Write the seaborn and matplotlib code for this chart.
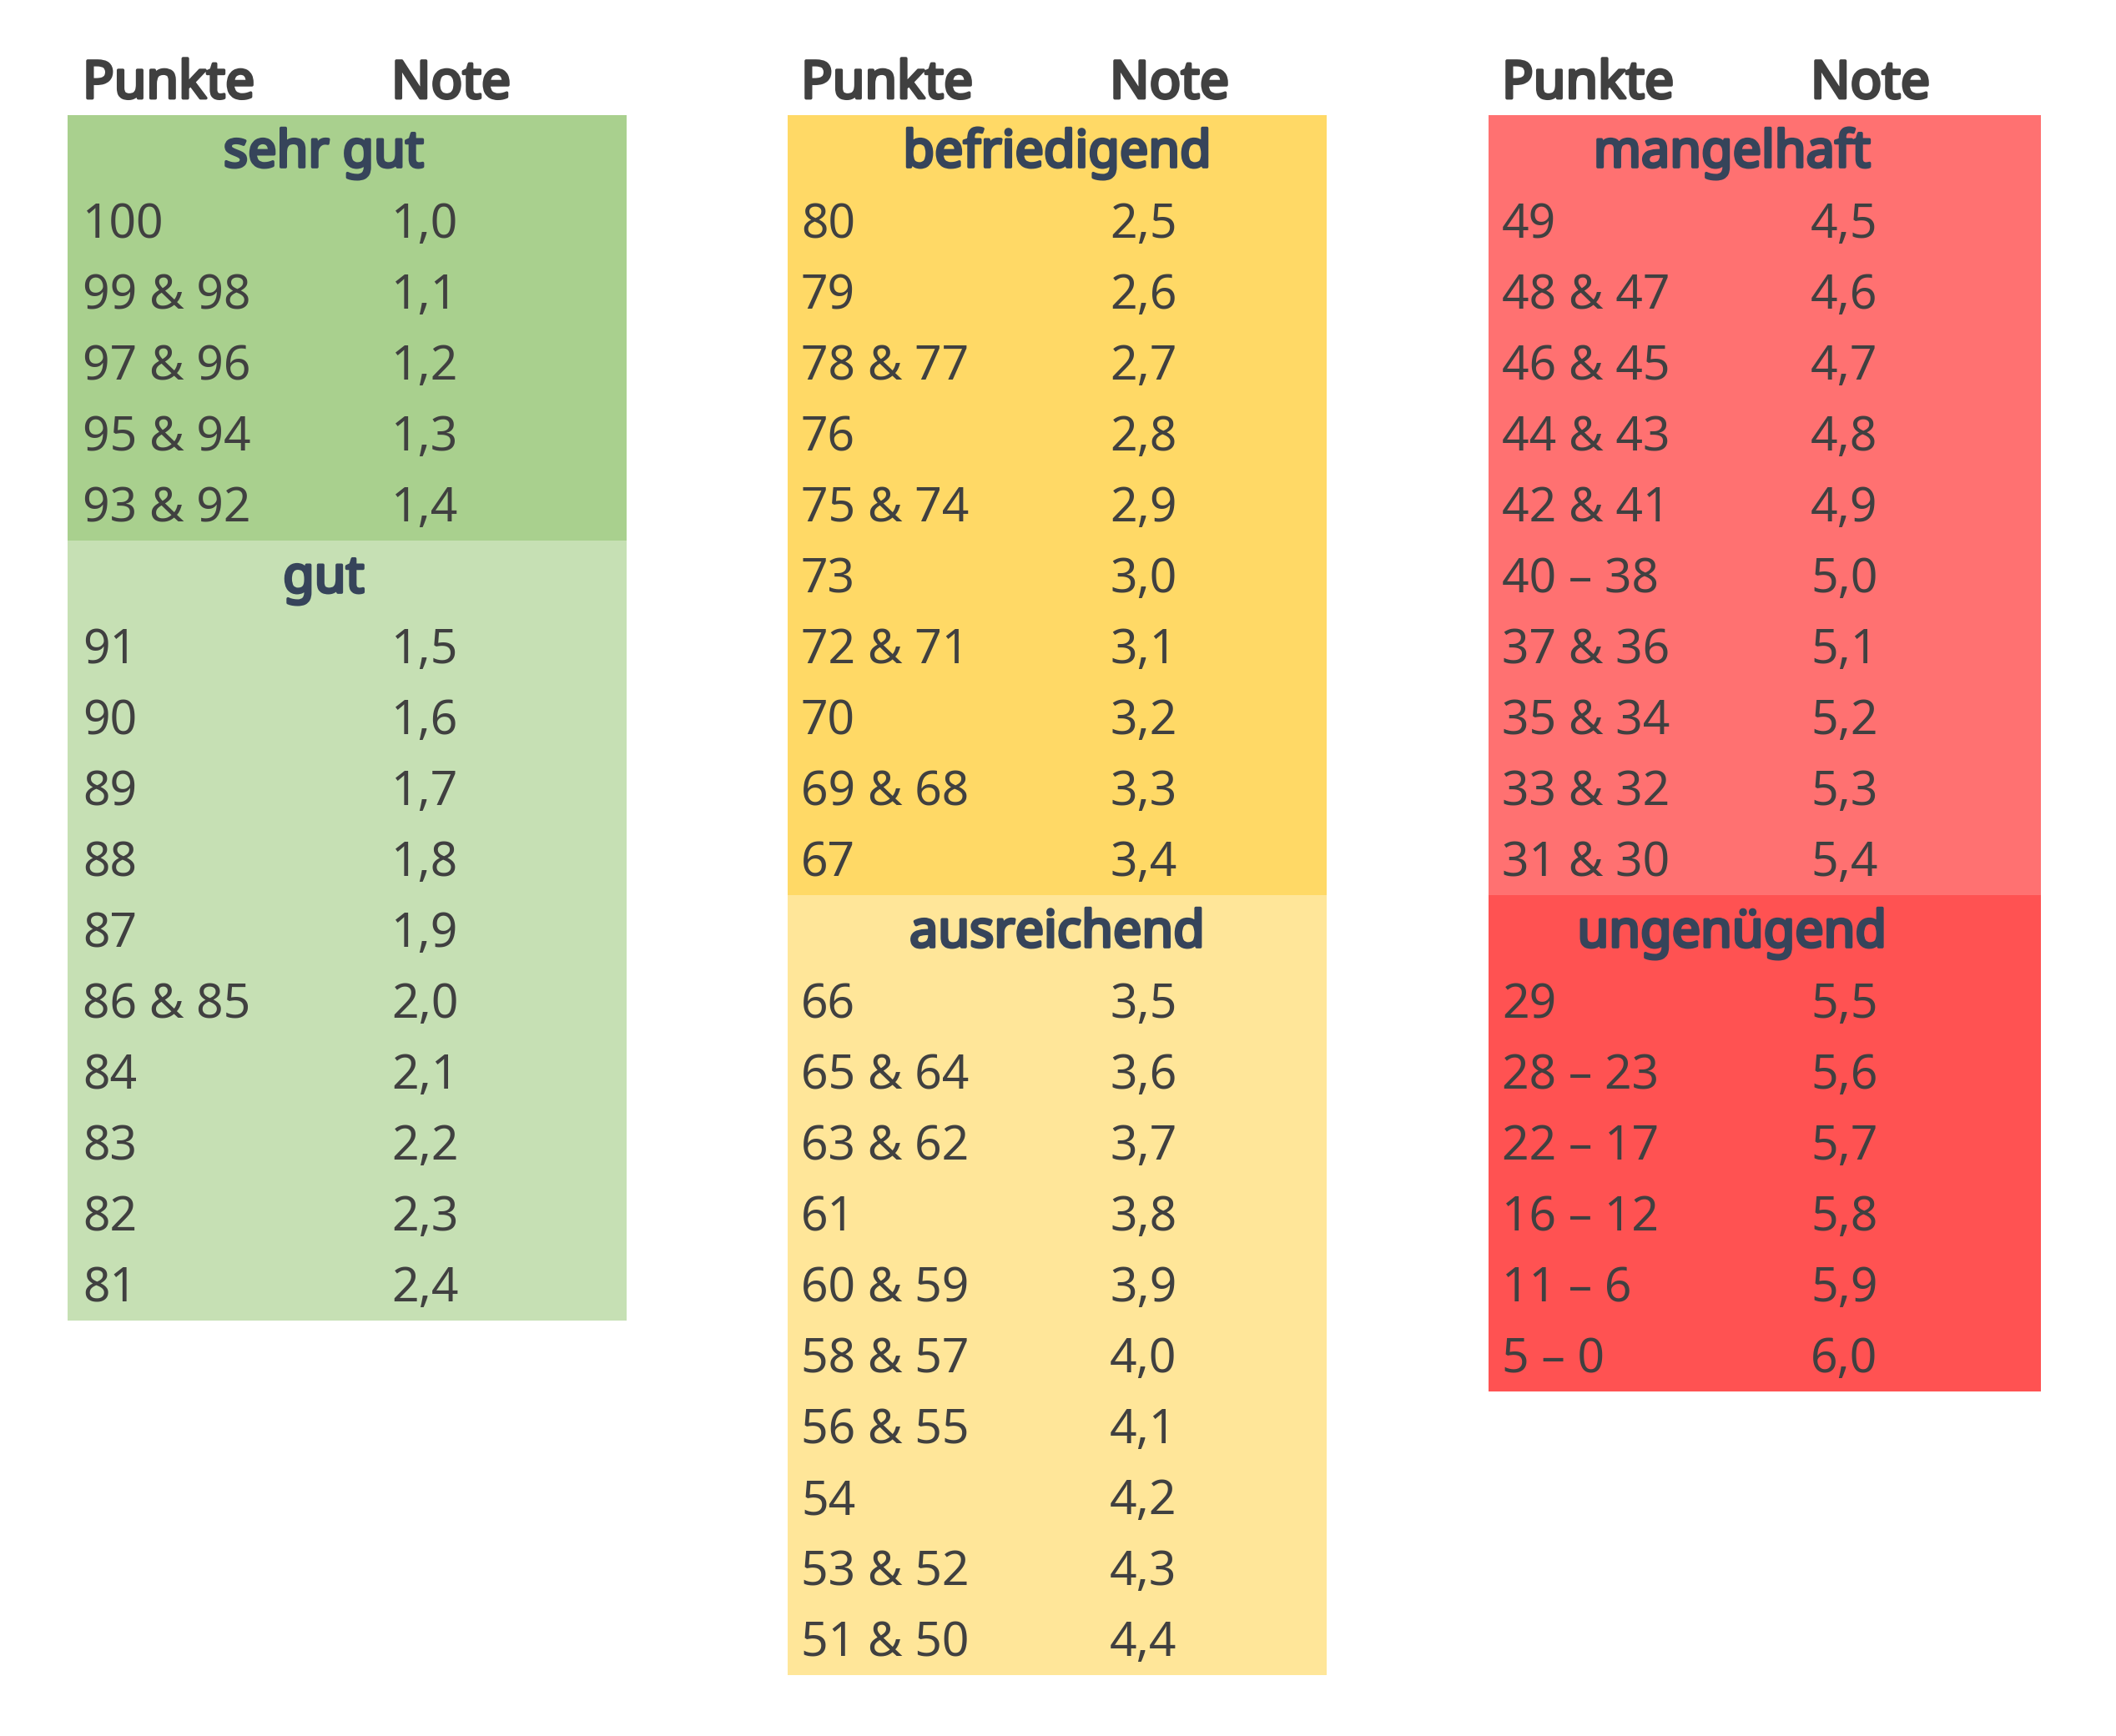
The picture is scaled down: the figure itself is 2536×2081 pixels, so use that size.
import matplotlib
matplotlib.use('Agg')
import numpy as np
import pandas as pd
import matplotlib.pyplot as plt
import matplotlib.patheffects as pe
import seaborn as sns
from matplotlib.colors import ListedColormap

# grading table data ---------------------------------
sehr_gut_punkte = ['100', '99 & 98', '97 & 96', '95 & 94', '93 & 92']
sehr_gut_noten = ['1,0', '1,1', '1,2', '1,3', '1,4']
gut_punkte = ['91', '90', '89', '88', '87', '86 & 85', '84', '83', '82', '81']
gut_noten = ['1,5', '1,6', '1,7', '1,8', '1,9', '2,0', '2,1', '2,2', '2,3', '2,4']
befr_punkte = ['80', '79', '78 & 77', '76', '75 & 74', '73', '72 & 71', '70', '69 & 68', '67']
befr_noten = ['2,5', '2,6', '2,7', '2,8', '2,9', '3,0', '3,1', '3,2', '3,3', '3,4']
ausr_punkte = ['66', '65 & 64', '63 & 62', '61', '60 & 59', '58 & 57', '56 & 55', '54', '53 & 52', '51 & 50']
ausr_noten = ['3,5', '3,6', '3,7', '3,8', '3,9', '4,0', '4,1', '4,2', '4,3', '4,4']
mang_punkte = ['49', '48 & 47', '46 & 45', '44 & 43', '42 & 41', '40 – 38', '37 & 36', '35 & 34', '33 & 32', '31 & 30']
mang_noten = ['4,5', '4,6', '4,7', '4,8', '4,9', '5,0', '5,1', '5,2', '5,3', '5,4']
ung_punkte = ['29', '28 – 23', '22 – 17', '16 – 12', '11 – 6', '5 – 0']
ung_noten = ['5,5', '5,6', '5,7', '5,8', '5,9', '6,0']

# each printed column holds two grade blocks
columns = [
    [('sehr gut', sehr_gut_punkte, sehr_gut_noten, '#a9d08e'),
     ('gut', gut_punkte, gut_noten, '#c6e0b4')],
    [('befriedigend', befr_punkte, befr_noten, '#ffd966'),
     ('ausreichend', ausr_punkte, ausr_noten, '#ffe699')],
    [('mangelhaft', mang_punkte, mang_noten, '#ff7171'),
     ('ungenügend', ung_punkte, ung_noten, '#ff5252')],
]

# layout in pixels ------------------------------------
W, H, DPI = 2536, 2081, 200
ROW = 85
TOP = 138
col_left = [81, 944, 1784]
col_width = [670, 646, 662]
text_left = [99, 960, 1800]
note_off = 370
head_center = [388, 1267, 2076]

TXT = '#404040'
HEAD = '#36445a'

sns.set_theme(style='white')
plt.rcParams['font.family'] = ['Noto Sans', 'DejaVu Sans']

# Noto Sans here is only the regular instance, so fake the bold with a stroke
def bold(color):
    return [pe.withStroke(linewidth=1.3, foreground=color)]

fig = plt.figure(figsize=(W / DPI, H / DPI), dpi=DPI)

for c, blocks in enumerate(columns):
    rows = []
    for b, (name, punkte, noten, color) in enumerate(blocks):
        rows.append({'block': b, 'kind': 'head', 'p': name, 'n': ''})
        for p, n in zip(punkte, noten):
            rows.append({'block': b, 'kind': 'row', 'p': p, 'n': n})
    df = pd.DataFrame(rows)
    nrows = len(df)

    ax = fig.add_axes([col_left[c] / W, 1 - (TOP + nrows * ROW) / H,
                       col_width[c] / W, nrows * ROW / H])
    cmap = ListedColormap([blk[3] for blk in blocks])
    sns.heatmap(df[['block']], ax=ax, cmap=cmap, vmin=-0.5, vmax=1.5,
                cbar=False, xticklabels=False, yticklabels=False, linewidths=0)
    ax.set_xlabel('')
    ax.set_ylabel('')

    xp = (text_left[c] - col_left[c]) / col_width[c]
    xn = (text_left[c] + note_off - col_left[c]) / col_width[c]
    xh = (head_center[c] - col_left[c]) / col_width[c]

    # column titles above the box
    ax.text(xp, -0.24, 'Punkte', fontsize=22.5, color=TXT, path_effects=bold(TXT),
            va='baseline', ha='left', clip_on=False)
    ax.text(xn, -0.24, 'Note', fontsize=22.5, color=TXT, path_effects=bold(TXT),
            va='baseline', ha='left', clip_on=False)

    for i, r in df.iterrows():
        y = i + 0.73
        if r['kind'] == 'head':
            ax.text(xh, y, r['p'], fontsize=22, color=HEAD, path_effects=bold(HEAD),
                    va='baseline', ha='center')
        else:
            ax.text(xp, y, r['p'], fontsize=20.5, color=TXT, va='baseline', ha='left')
            ax.text(xn, y, r['n'], fontsize=20.5, color=TXT, va='baseline', ha='left')

fig.savefig('out.png', dpi=DPI, facecolor='white')
